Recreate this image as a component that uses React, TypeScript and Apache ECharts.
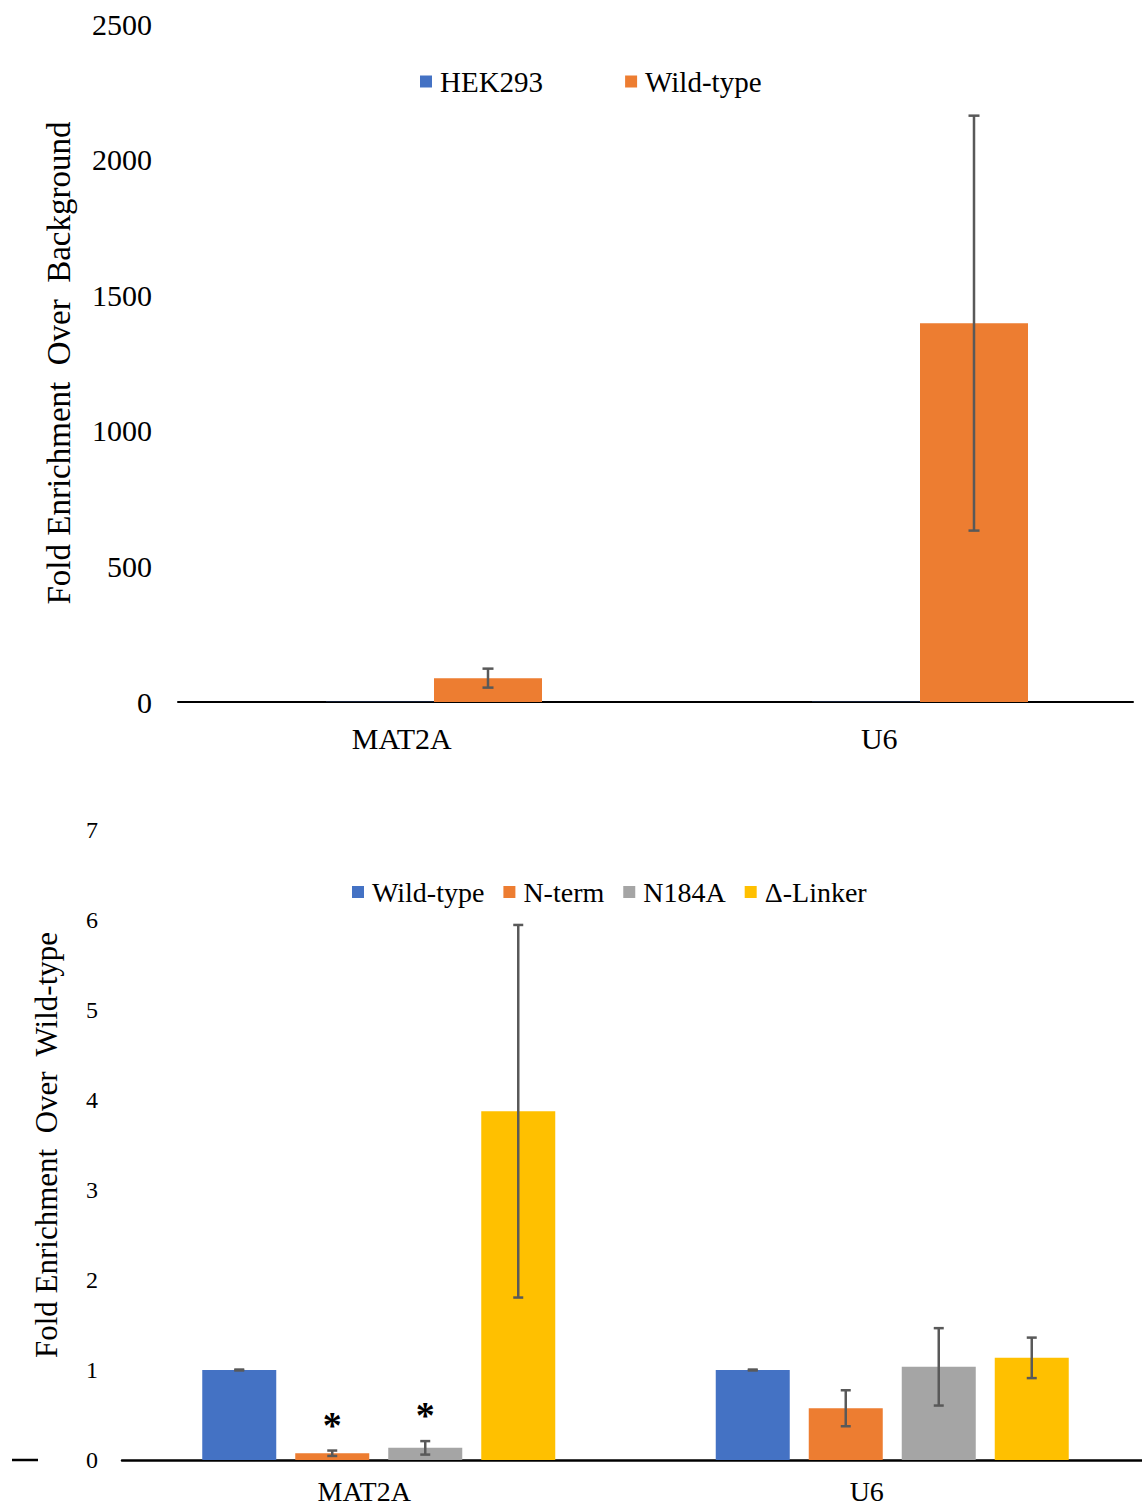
import React, { useEffect, useRef } from "react";
import * as echarts from "echarts";

// ---------- data: top chart ----------
const topCategories = ["MAT2A", "U6"];
const topSeriesNames = ["HEK293", "Wild-type"];
const topColors = ["#4472C4", "#ED7D31"];
const topValues = [
  [1, 1], // HEK293
  [88, 1397], // Wild-type
];
const topErrors = [
  [0, 0],
  [35, 765],
];
const topYTicks = [0, 500, 1000, 1500, 2000, 2500];

// ---------- data: bottom chart ----------
const bottomCategories = ["MAT2A", "U6"];
const bottomSeriesNames = ["Wild-type", "N-term", "N184A", "Δ-Linker"];
const bottomColors = ["#4472C4", "#ED7D31", "#A5A5A5", "#FFC000"];
const bottomValues = [
  [1, 1],
  [0.075, 0.575],
  [0.135, 1.035],
  [3.875, 1.135],
];
const bottomErrors = [
  [0.005, 0.005],
  [0.03, 0.2],
  [0.075, 0.43],
  [2.07, 0.225],
];
const bottomSignificant = [
  [0, 0],
  [1, 0],
  [1, 0],
  [0, 0],
];
const bottomYTicks = [0, 1, 2, 3, 4, 5, 6, 7];

const FONT = "Liberation Serif, 'Times New Roman', serif";
const ERR_COLOR = "#595959";

function errorSeries(
  categories: string[],
  values: number[],
  errs: number[],
  sig: number[] | null,
  index: number,
  count: number,
  barW: number,
  gapPx: number,
  capW: number
) {
  const data = categories
    .map((_, j) => [j, values[j] - errs[j], values[j] + errs[j], sig ? sig[j] : 0, errs[j]])
    .filter((d) => d[4] > 0);
  return {
    type: "custom",
    silent: true,
    z: 10,
    xAxisIndex: 0,
    yAxisIndex: 0,
    data,
    encode: { x: 0, y: [1, 2] },
    renderItem: (params: any, api: any) => {
      const x = api.value(0);
      const lo = api.value(1);
      const hi = api.value(2);
      const pLo = api.coord([x, lo]);
      const pHi = api.coord([x, hi]);
      const off = (index - (count - 1) / 2) * (barW + gapPx);
      const cx = pLo[0] + off;
      const st = { stroke: ERR_COLOR, lineWidth: 2.5 };
      const children: any[] = [
        { type: "line", shape: { x1: cx, y1: pLo[1], x2: cx, y2: pHi[1] }, style: st },
        { type: "line", shape: { x1: cx - capW / 2, y1: pHi[1], x2: cx + capW / 2, y2: pHi[1] }, style: st },
        { type: "line", shape: { x1: cx - capW / 2, y1: pLo[1], x2: cx + capW / 2, y2: pLo[1] }, style: st },
      ];
      if (api.value(3)) {
        children.push({
          type: "text",
          style: {
            text: "*",
            x: cx,
            y: pHi[1] - 26,
            align: "center",
            verticalAlign: "middle",
            fontSize: 38,
            fontWeight: "bold",
            fontFamily: FONT,
            fill: "#000",
          },
        });
      }
      return { type: "group", children };
    },
  };
}

function topOption(): any {
  const barW = 108;
  const top = 24;
  const height = 678;
  const yMin = topYTicks[0];
  const yMax = topYTicks[topYTicks.length - 1];
  return {
    animation: false,
    backgroundColor: "#fff",
    legend: {
      data: topSeriesNames,
      left: 420,
      top: 67,
      padding: 0,
      icon: "rect",
      itemWidth: 12,
      itemHeight: 12,
      itemGap: 82,
      textStyle: { fontFamily: FONT, fontSize: 29, color: "#000", padding: [0, 0, 0, 3] },
    },
    grid: [
      { left: 191, width: 972, top, height },
      { left: 178, width: 955, top, height },
    ],
    xAxis: [
      {
        type: "category",
        gridIndex: 0,
        data: topCategories,
        axisLine: { show: false },
        axisTick: { show: false },
        axisLabel: { show: false },
      },
      {
        type: "category",
        gridIndex: 1,
        data: topCategories,
        axisLine: { show: true, lineStyle: { color: "#000", width: 2 } },
        axisTick: { show: false },
        axisLabel: {
          fontFamily: FONT,
          fontSize: 30,
          color: "#000",
          margin: 21,
          padding: [0, 30, 0, 0],
        },
      },
    ],
    yAxis: [
      {
        type: "value",
        gridIndex: 0,
        min: yMin,
        max: yMax,
        interval: topYTicks[1] - topYTicks[0],
        axisLine: { show: false },
        axisTick: { show: false },
        splitLine: { show: false },
        axisLabel: {
          fontFamily: FONT,
          fontSize: 30,
          color: "#000",
          margin: 39,
          formatter: (v: number) => String(v),
        },
        name: "Fold Enrichment  Over  Background",
        nameLocation: "middle",
        nameGap: 116,
        nameTextStyle: { fontFamily: FONT, fontSize: 33, color: "#000" },
      },
      { type: "value", gridIndex: 1, min: yMin, max: yMax, show: false },
    ],
    series: [
      ...topSeriesNames.map((name, i) => ({
        type: "bar",
        name,
        xAxisIndex: 0,
        yAxisIndex: 0,
        data: topValues[i],
        barWidth: barW,
        barGap: "0%",
        itemStyle: { color: topColors[i] },
      })),
      ...topSeriesNames
        .map((_, i) =>
          errorSeries(topCategories, topValues[i], topErrors[i], null, i, topSeriesNames.length, barW, 0, 11)
        )
        .filter((s) => s.data.length > 0),
    ],
  };
}

function bottomOption(): any {
  const barW = 74;
  const gapPx = 19;
  const top = 60;
  const height = 630;
  const yMin = bottomYTicks[0];
  const yMax = bottomYTicks[bottomYTicks.length - 1];
  return {
    animation: false,
    backgroundColor: "#fff",
    legend: {
      data: bottomSeriesNames,
      left: 352,
      top: 108,
      padding: 0,
      icon: "rect",
      itemWidth: 12,
      itemHeight: 12,
      itemGap: 19,
      textStyle: { fontFamily: FONT, fontSize: 28, color: "#000", padding: [0, 0, 0, 3] },
    },
    grid: [
      { left: 122, width: 1027, top, height },
      { left: 113, width: 1005, top, height },
    ],
    xAxis: [
      {
        type: "category",
        gridIndex: 0,
        data: bottomCategories,
        axisLine: { show: true, lineStyle: { color: "#000", width: 2.5 } },
        axisTick: { show: false },
        axisLabel: { show: false },
      },
      {
        type: "category",
        gridIndex: 1,
        data: bottomCategories,
        axisLine: { show: false },
        axisTick: { show: false },
        axisLabel: {
          fontFamily: FONT,
          fontSize: 28,
          color: "#000",
          margin: 17,
        },
      },
    ],
    yAxis: [
      {
        type: "value",
        gridIndex: 0,
        min: yMin,
        max: yMax,
        interval: bottomYTicks[1] - bottomYTicks[0],
        axisLine: { show: false },
        axisTick: { show: false },
        splitLine: { show: false },
        axisLabel: { fontFamily: FONT, fontSize: 24, color: "#000", margin: 24 },
        name: "Fold Enrichment  Over  Wild-type",
        nameLocation: "middle",
        nameGap: 60,
        nameTextStyle: { fontFamily: FONT, fontSize: 31, color: "#000" },
      },
      { type: "value", gridIndex: 1, min: yMin, max: yMax, show: false },
    ],
    graphic: [
      {
        type: "line",
        shape: { x1: 12, y1: 690, x2: 38, y2: 690 },
        style: { stroke: "#000", lineWidth: 2.5 },
      },
    ],
    series: [
      ...bottomSeriesNames.map((name, i) => ({
        type: "bar",
        name,
        xAxisIndex: 0,
        yAxisIndex: 0,
        data: bottomValues[i],
        barWidth: barW,
        barGap: `${(gapPx / barW) * 100}%`,
        itemStyle: { color: bottomColors[i] },
      })),
      ...bottomSeriesNames.map((_, i) =>
        errorSeries(
          bottomCategories,
          bottomValues[i],
          bottomErrors[i],
          bottomSignificant[i],
          i,
          bottomSeriesNames.length,
          barW,
          gapPx,
          10
        )
      ),
    ],
  };
}

export default function App() {
  const topRef = useRef<HTMLDivElement>(null);
  const bottomRef = useRef<HTMLDivElement>(null);

  useEffect(() => {
    const c1 = echarts.init(topRef.current!, undefined, { renderer: "svg" });
    c1.setOption(topOption());
    const c2 = echarts.init(bottomRef.current!, undefined, { renderer: "svg" });
    c2.setOption(bottomOption());
    return () => {
      c1.dispose();
      c2.dispose();
    };
  }, []);

  return (
    <div
      style={{
        position: "absolute",
        left: 0,
        top: 0,
        width: 1142,
        height: 1510,
        overflow: "hidden",
        background: "#fff",
      }}
    >
      <div ref={topRef} style={{ position: "absolute", left: 0, top: 0, width: 1180, height: 770 }} />
      <div ref={bottomRef} style={{ position: "absolute", left: 0, top: 770, width: 1180, height: 740 }} />
    </div>
  );
}
